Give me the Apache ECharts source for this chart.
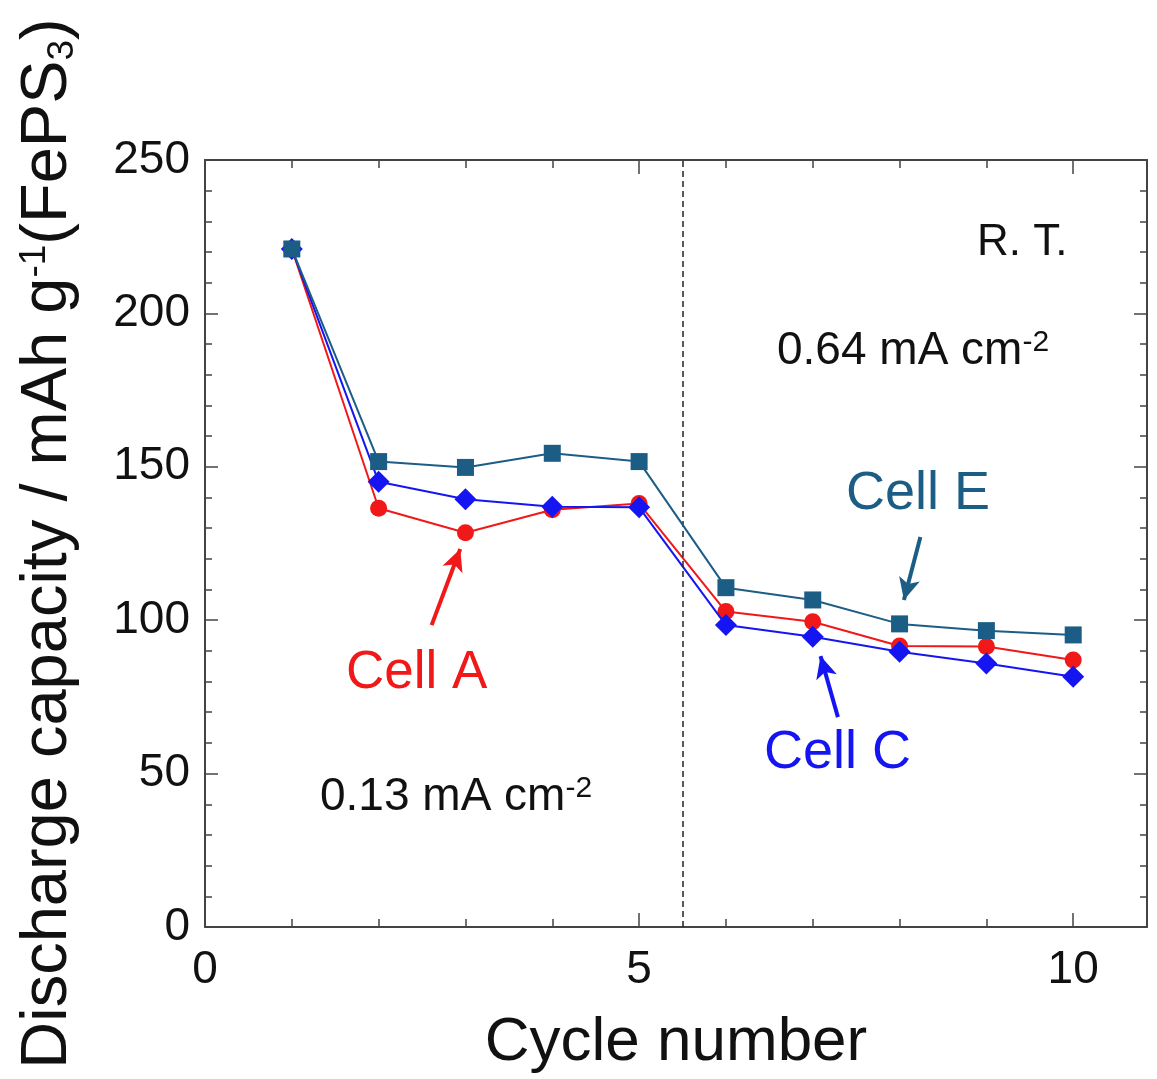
<!DOCTYPE html>
<html>
<head>
<meta charset="utf-8">
<script src="https://cdn.jsdelivr.net/npm/echarts@6/dist/echarts.min.js"></script>
<style>
html,body{margin:0;padding:0;background:#fff;}
#chart{width:1157px;height:1079px;}
</style>
</head>
<body>
<div id="chart"></div>
<script>
// ---- data ----
const cycles = [1, 2, 3, 4, 5, 6, 7, 8, 9, 10];
const cellA = [221, 136.5, 128.5, 136.0, 138.0, 102.8, 99.5, 91.6, 91.4, 87.0];
const cellC = [221, 145.1, 139.4, 137.0, 136.8, 98.4, 94.6, 89.7, 85.9, 81.6];
const cellE = [221, 151.7, 149.8, 154.4, 151.7, 110.6, 106.6, 98.8, 96.6, 95.2];
const xTicks = [0, 5, 10];
const yTicks = [0, 50, 100, 150, 200, 250];
const rateSwitch = 5.5;
// arrows: [tailX, tailY, tipX, tipY] in data units
const arrowA = [2.61, 98.4, 2.94, 123.2];
const arrowC = [7.29, 68.4, 7.09, 88.3];
const arrowE = [8.24, 127.1, 8.05, 106.6];

const XMAX = 10.85, YMAX = 250;
const colA = '#f01818', colC = '#1515f2', colE = '#1c5d86';
const FONT = '"Liberation Sans", Arial, Helvetica, sans-serif';
const axisCol = '#444';

function pairs(ys) { return cycles.map((c, i) => [c, ys[i]]); }
function arrowLine(a) { return [[{ coord: [a[0], a[1]] }, { coord: [a[2], a[3]] }]]; }

const chart = echarts.init(document.getElementById('chart'), null, { renderer: 'canvas' });

function xAx(pos, interval, tickLen, labels, line, extra) {
  return Object.assign({
    type: 'value', position: pos, min: 0, max: XMAX, interval: interval,
    axisLine: { show: line, onZero: false, lineStyle: { color: axisCol, width: 2 } },
    axisTick: { show: true, inside: true, length: tickLen, lineStyle: { color: axisCol, width: 1.5 } },
    axisLabel: labels ? {
      show: true, fontSize: 46, color: '#111', fontFamily: FONT, margin: 20,
      formatter: v => (xTicks.indexOf(v) >= 0 ? String(v) : '')
    } : { show: false },
    splitLine: { show: false }
  }, extra || {});
}
function yAx(pos, labels, extra) {
  return Object.assign({
    type: 'value', position: pos, min: 0, max: YMAX, interval: 50,
    axisLine: { show: true, onZero: false, lineStyle: { color: axisCol, width: 2 } },
    axisTick: { show: true, inside: true, length: 13, lineStyle: { color: axisCol, width: 1.5 } },
    minorTick: { show: true, splitNumber: 5, length: 7, lineStyle: { color: axisCol, width: 1.5 } },
    axisLabel: labels ? {
      show: true, fontSize: 46, color: '#111', fontFamily: FONT, margin: 15,
      formatter: v => (yTicks.indexOf(v) >= 0 ? String(v) : '')
    } : { show: false },
    splitLine: { show: false }, minorSplitLine: { show: false }
  }, extra || {});
}

function arrowSeries(name, a, col) {
  return {
    name: name, type: 'line', data: [], xAxisIndex: 0, yAxisIndex: 0, z: 6,
    markLine: {
      silent: true, symbol: ['none', 'arrow'], symbolSize: [16, 22], label: { show: false },
      data: arrowLine(a), lineStyle: { color: col, width: 4, type: 'solid' }
    }
  };
}

const option = {
  animation: false,
  backgroundColor: '#fff',
  grid: { left: 205, top: 160, right: 10, bottom: 152, containLabel: false, outerBoundsMode: 'none' },
  xAxis: [
    xAx('bottom', 5, 14, true, true, {
      name: 'Cycle number', nameLocation: 'middle', nameGap: 85,
      nameTextStyle: { fontSize: 62, color: '#111', fontFamily: FONT }
    }),
    xAx('bottom', 1, 8, false, false),
    xAx('top', 5, 14, false, true),
    xAx('top', 1, 8, false, false)
  ],
  yAxis: [
    yAx('left', true, {
      name: 'Discharge capacity / mAh g{sup|-1}(FePS{sub|3})',
      nameLocation: 'middle', nameRotate: 90, nameGap: 124,
      nameTextStyle: {
        fontSize: 65, color: '#111', fontFamily: FONT,
        rich: {
          sup: { fontSize: 37, color: '#111', fontFamily: FONT, verticalAlign: 'top', lineHeight: 37 },
          sub: { fontSize: 37, color: '#111', fontFamily: FONT, verticalAlign: 'bottom', lineHeight: 37 }
        }
      }
    }),
    yAx('right', false)
  ],
  series: [
    {
      name: 'Cell A', type: 'line', data: pairs(cellA), xAxisIndex: 0, yAxisIndex: 0,
      symbol: 'circle', symbolSize: 17, z: 3,
      lineStyle: { color: colA, width: 2 }, itemStyle: { color: colA },
      markLine: {
        silent: true, symbol: 'none', label: { show: false },
        lineStyle: { color: '#222', type: [6, 4], width: 1.5 },
        data: [{ xAxis: rateSwitch }]
      }
    },
    {
      name: 'Cell C', type: 'line', data: pairs(cellC), xAxisIndex: 0, yAxisIndex: 0,
      symbol: 'diamond', symbolSize: 22, z: 4,
      lineStyle: { color: colC, width: 2 }, itemStyle: { color: colC }
    },
    {
      name: 'Cell E', type: 'line', data: pairs(cellE), xAxisIndex: 0, yAxisIndex: 0,
      symbol: 'rect', symbolSize: 17, z: 5,
      lineStyle: { color: colE, width: 2 }, itemStyle: { color: colE }
    },
    arrowSeries('arrowA', arrowA, colA),
    arrowSeries('arrowC', arrowC, colC),
    arrowSeries('arrowE', arrowE, colE)
  ],
  graphic: [
    { type: 'text', left: 977, top: 221, style: { text: 'R. T.', fontSize: 44, fill: '#111', fontFamily: FONT } },
    { type: 'text', left: 777, top: 328, style: {
        text: '0.64 mA cm{sup|-2}', fontSize: 46, fill: '#111', fontFamily: FONT,
        rich: { sup: { fontSize: 30, fill: '#111', fontFamily: FONT, verticalAlign: 'top' } } } },
    { type: 'text', left: 320, top: 774, style: {
        text: '0.13 mA cm{sup|-2}', fontSize: 46, fill: '#111', fontFamily: FONT,
        rich: { sup: { fontSize: 30, fill: '#111', fontFamily: FONT, verticalAlign: 'top' } } } },
    { type: 'text', left: 346, top: 647, style: { text: 'Cell A', fontSize: 53, fill: colA, fontFamily: FONT } },
    { type: 'text', left: 764, top: 726, style: { text: 'Cell C', fontSize: 54, fill: colC, fontFamily: FONT } },
    { type: 'text', left: 846, top: 467, style: { text: 'Cell E', fontSize: 54, fill: colE, fontFamily: FONT } }
  ]
};
chart.setOption(option);
</script>
</body>
</html>
